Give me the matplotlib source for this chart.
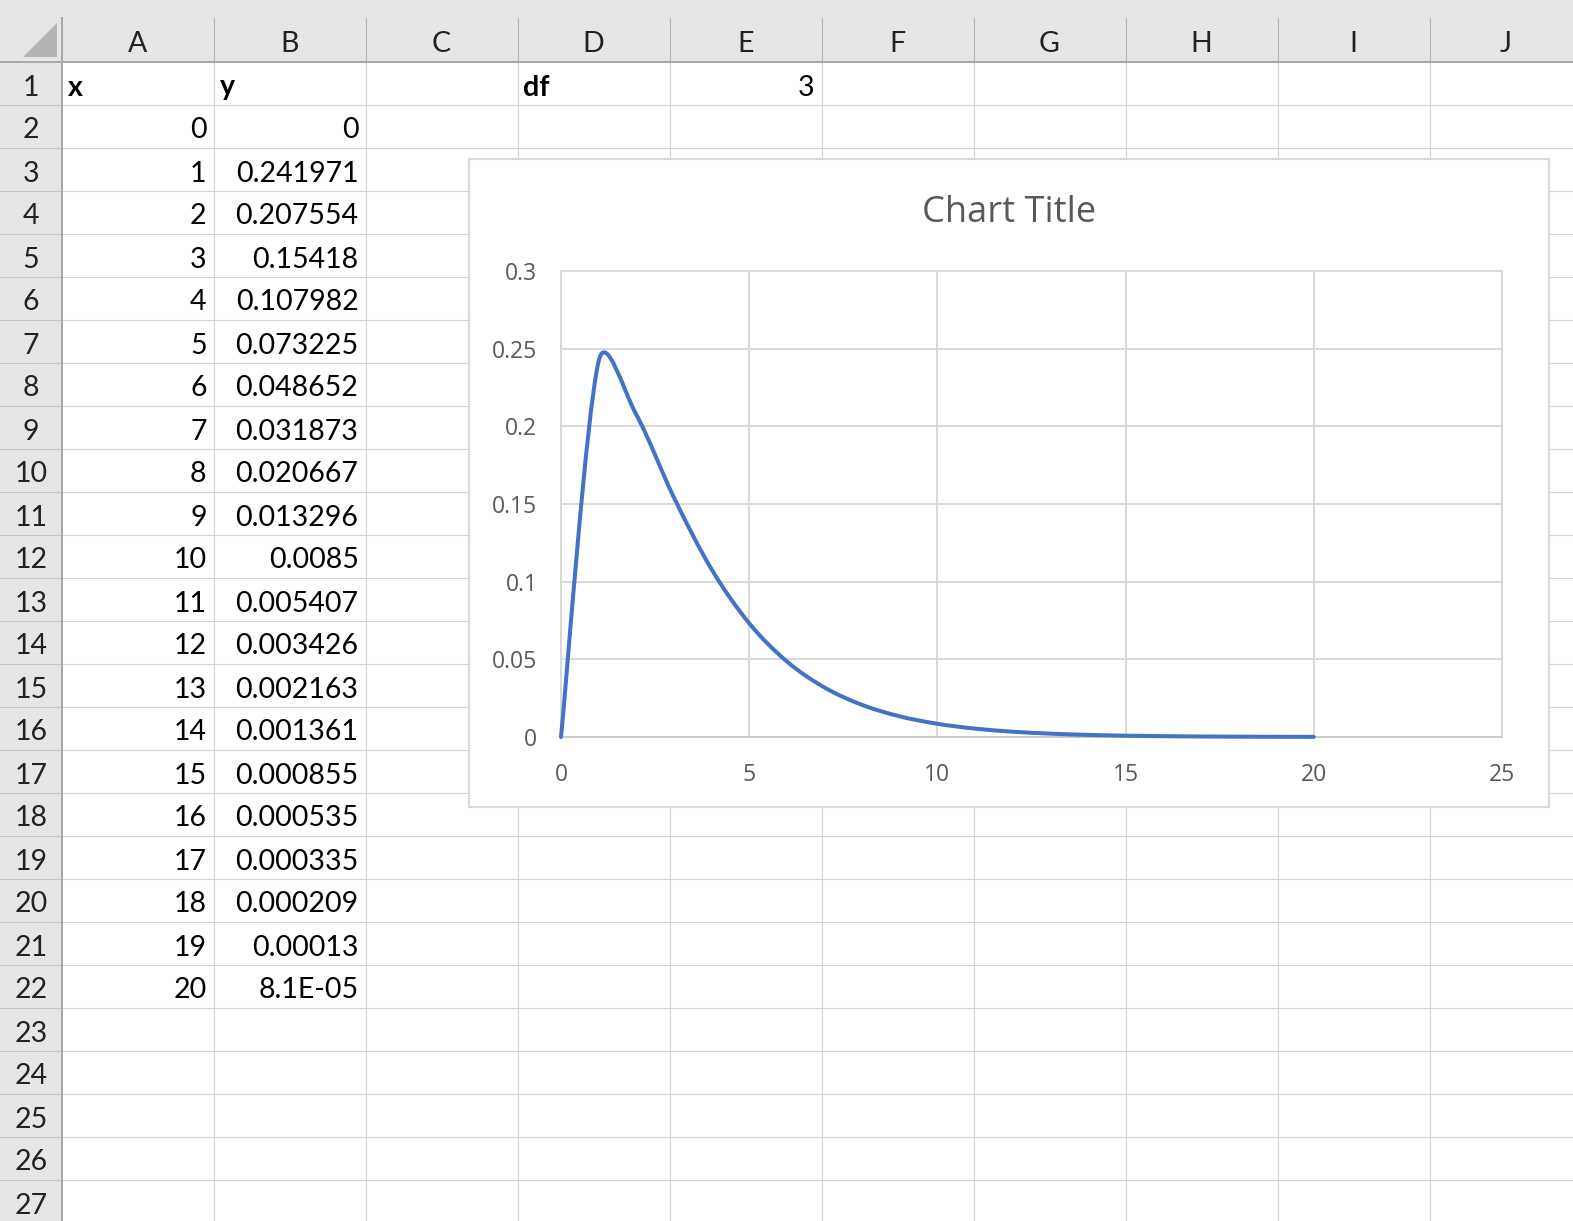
import matplotlib
matplotlib.use('Agg')
import matplotlib.pyplot as plt
from matplotlib.path import Path
from matplotlib.patches import PathPatch, Rectangle, Polygon
import numpy as np

# ---------------- data ----------------
x_vals = list(range(21))
y_vals = [0, 0.241971, 0.207554, 0.15418, 0.107982, 0.073225, 0.048652,
          0.031873, 0.020667, 0.013296, 0.0085, 0.005407, 0.003426, 0.002163,
          0.001361, 0.000855, 0.000535, 0.000335, 0.000209, 0.00013, 8.1e-05]
y_cell_text = ['0', '0.241971', '0.207554', '0.15418', '0.107982', '0.073225',
               '0.048652', '0.031873', '0.020667', '0.013296', '0.0085',
               '0.005407', '0.003426', '0.002163', '0.001361', '0.000855',
               '0.000535', '0.000335', '0.000209', '0.00013', '8.1E-05']
col_letters = ['A', 'B', 'C', 'D', 'E', 'F', 'G', 'H', 'I', 'J']
row_numbers = list(range(1, 28))
header_x = 'x'
header_y = 'y'
df_label = 'df'
df_value = '3'
chart_title = 'Chart Title'
x_ticks = [0, 5, 10, 15, 20, 25]
x_tick_labels = ['0', '5', '10', '15', '20', '25']
y_ticks = [0, 0.05, 0.1, 0.15, 0.2, 0.25, 0.3]
y_tick_labels = ['0', '0.05', '0.1', '0.15', '0.2', '0.25', '0.3']

# ---------------- layout ----------------
W, H = 1573, 1221
fig = plt.figure(figsize=(W / 100, H / 100), dpi=100)
fig.patch.set_facecolor('white')

sheet = fig.add_axes([0, 0, 1, 1])
sheet.set_xlim(0, W)
sheet.set_ylim(H, 0)
sheet.axis('off')

HDR_H = 61.5
ROW_W = 61.5
ROW_H = 43.0
COL_W = 152.0
cell_font = 'Lato'
cell_size = 20.5

# header backgrounds
sheet.add_patch(Rectangle((0, 0), W, HDR_H, facecolor='#E6E6E6', edgecolor='none', zorder=1))
sheet.add_patch(Rectangle((0, 0), ROW_W, H, facecolor='#E6E6E6', edgecolor='none', zorder=1))

# row lines
for k in range(1, len(row_numbers) + 1):
    yy = HDR_H + ROW_H * k
    sheet.plot([ROW_W, W], [yy, yy], color='#D4D4D4', lw=0.8, zorder=2)
    sheet.plot([0, ROW_W], [yy, yy], color='#C6C6C6', lw=0.8, zorder=2)
# column lines
for k in range(1, len(col_letters) + 1):
    xx = ROW_W + COL_W * k
    sheet.plot([xx, xx], [HDR_H, H], color='#D4D4D4', lw=0.8, zorder=2)
    sheet.plot([xx, xx], [18, HDR_H], color='#B4B4B4', lw=0.8, zorder=2)
# header borders
sheet.plot([0, W], [HDR_H, HDR_H], color='#A8A8A8', lw=1.4, zorder=3)
sheet.plot([ROW_W, ROW_W], [18, H], color='#A8A8A8', lw=1.4, zorder=3)
# corner triangle
sheet.add_patch(Polygon([(57, 23), (57, 57), (23, 57)], closed=True,
                        facecolor='#B4B4B4', edgecolor='none', zorder=3))

# header letters
for i, letter in enumerate(col_letters):
    cx = ROW_W + COL_W * (i + 0.5)
    sheet.text(cx, HDR_H - 9.5, letter, ha='center', va='baseline',
               fontsize=cell_size, family=cell_font, color='#222222', zorder=4)
# row numbers
for r in row_numbers:
    by = HDR_H + ROW_H * r - 9
    sheet.text(31, by, str(r), ha='center', va='baseline',
               fontsize=cell_size, family=cell_font, color='#222222', zorder=4)

def col_left(ci):
    return ROW_W + COL_W * ci

def row_base(r):
    return HDR_H + ROW_H * r - 9

# row 1 content
sheet.text(col_left(0) + 6, row_base(1), header_x, ha='left', va='baseline',
           fontsize=cell_size, family=cell_font, weight='bold', color='black', zorder=4)
sheet.text(col_left(1) + 6, row_base(1), header_y, ha='left', va='baseline',
           fontsize=cell_size, family=cell_font, weight='bold', color='black', zorder=4)
sheet.text(col_left(3) + 6, row_base(1), df_label, ha='left', va='baseline',
           fontsize=cell_size, family=cell_font, weight='bold', color='black', zorder=4)
sheet.text(col_left(5) - 7, row_base(1), df_value, ha='right', va='baseline',
           fontsize=cell_size, family=cell_font, color='black', zorder=4)

for i, (xv, yt) in enumerate(zip(x_vals, y_cell_text)):
    r = i + 2
    sheet.text(col_left(1) - 7, row_base(r), str(xv), ha='right', va='baseline',
               fontsize=cell_size, family=cell_font, color='black', zorder=4)
    sheet.text(col_left(2) - 7, row_base(r), yt, ha='right', va='baseline',
               fontsize=cell_size, family=cell_font, color='black', zorder=4)

# chart box
BX0, BY0, BX1, BY1 = 469, 159, 1549, 807
sheet.add_patch(Rectangle((BX0, BY0), BX1 - BX0, BY1 - BY0, facecolor='white',
                          edgecolor='#D9D9D9', lw=1.5, zorder=10))

# plot area
PX0, PY0, PX1, PY1 = 561, 271, 1502, 737
ax = fig.add_axes([PX0 / W, 1 - PY1 / H, (PX1 - PX0) / W, (PY1 - PY0) / H])
ax.set_facecolor('none')
ax.set_xlim(0, 25)
ax.set_ylim(0, 0.3)
ax.set_xticks(x_ticks)
ax.set_xticklabels(x_tick_labels)
ax.set_yticks(y_ticks)
ax.set_yticklabels(y_tick_labels)
ax.grid(True, color='#D9D9D9', lw=1.4)
ax.set_axisbelow(True)
for s in ['left', 'right', 'top']:
    ax.spines[s].set_color('#D9D9D9')
    ax.spines[s].set_linewidth(1.4)
ax.spines['bottom'].set_color('#C8C8C8')
ax.spines['bottom'].set_linewidth(1.4)
ax.tick_params(length=0, labelsize=16.5, labelcolor='#595959')
ax.tick_params(axis='y', pad=17)
ax.tick_params(axis='x', pad=19)
for lab in ax.get_xticklabels() + ax.get_yticklabels():
    lab.set_family('Open Sans')

# smoothed line (Excel-style bezier through data points, built in display space)
data_pts = np.column_stack([x_vals, y_vals]).astype(float)
pts = ax.transData.transform(data_pts)
n = len(pts)
verts = [pts[0]]
codes = [Path.MOVETO]

def ctrl(anchor, tangent, seg_len):
    t = tangent / 6.0
    ln = np.hypot(*t)
    lim = seg_len / 2.0
    if ln > lim and ln > 0:
        t = t * (lim / ln)
    return t

for i in range(n - 1):
    p0 = pts[max(i - 1, 0)]
    p1 = pts[i]
    p2 = pts[i + 1]
    p3 = pts[min(i + 2, n - 1)]
    seg = np.hypot(*(p2 - p1))
    c1 = p1 + ctrl(p1, p2 - p0, seg)
    c2 = p2 - ctrl(p2, p3 - p1, seg)
    verts += [c1, c2, p2]
    codes += [Path.CURVE4] * 3
verts_data = ax.transData.inverted().transform(np.array(verts))
ax.add_patch(PathPatch(Path(verts_data, codes), facecolor='none', edgecolor='#4472C4',
                       lw=2.9, capstyle='round', joinstyle='round', clip_on=False, zorder=5))

fig.text(1009 / W, 1 - 213 / H, chart_title, ha='center', va='center',
         fontsize=26, family='Open Sans', color='#595959')

fig.savefig('out.png', dpi=100)
